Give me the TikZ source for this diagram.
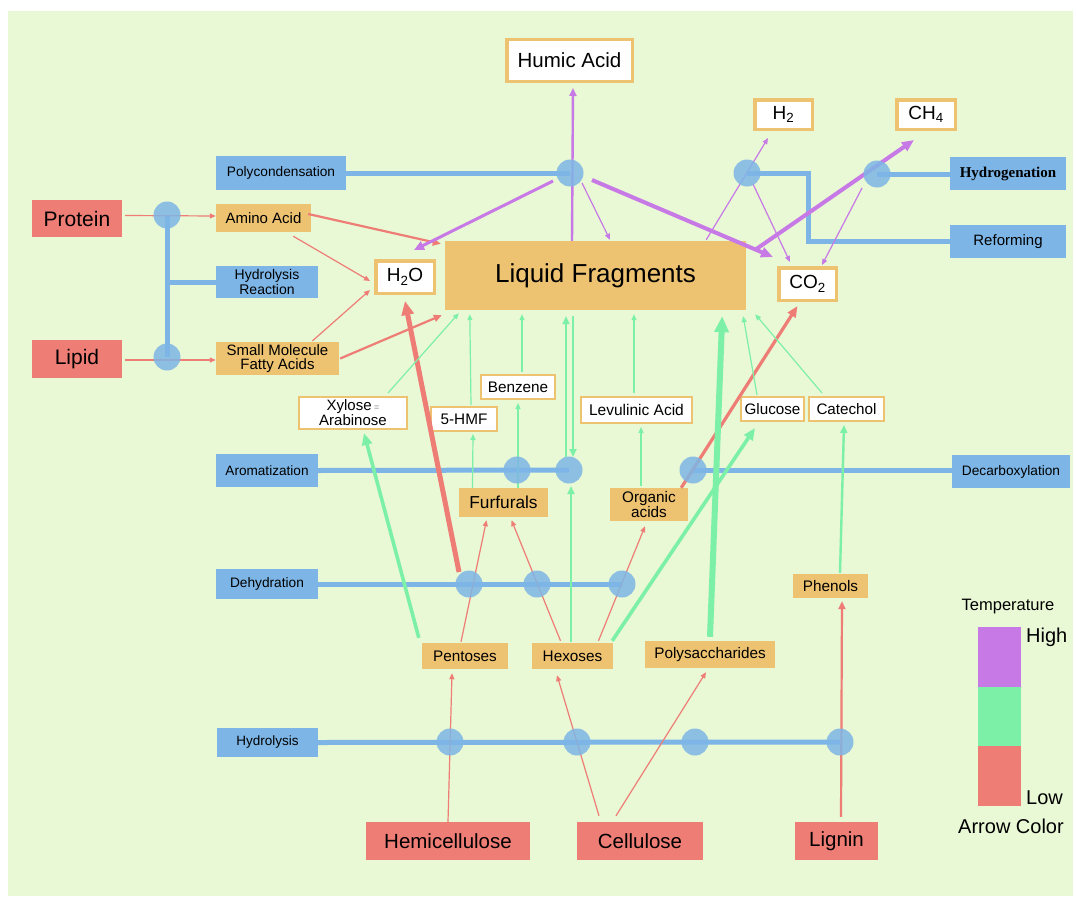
\documentclass[tikz,border=0pt]{standalone}
\usepackage{fontspec}
\setmainfont{Liberation Sans}
\newfontfamily\hydrofont{Liberation Serif}
\usetikzlibrary{arrows.meta,calc}
\definecolor{bg}{HTML}{E9F8D5}
\definecolor{cred}{HTML}{EE7D75}
\definecolor{corange}{HTML}{EDC372}
\definecolor{cblue}{HTML}{7DB6E6}
\definecolor{cpurple}{HTML}{C77AE6}
\definecolor{cgreen}{HTML}{7DF0A8}
\newcommand\fsz[2]{\fontsize{#1}{#2}\selectfont}
\begin{document}
\begin{tikzpicture}[x=1pt,y=-1pt,
 box/.style={inner sep=0pt, align=center, text=black},
 redbox/.style={box, fill=cred},
 orbox/.style={box, fill=corange},
 bluebox/.style={box, fill=cblue},
 outbox/.style={box, fill=white, draw=corange, line width=3.5pt},
 outboxs/.style={box, fill=white, draw=corange, line width=2pt},
 junc/.style={circle, fill=cblue, fill opacity=0.85, minimum size=27pt, inner sep=0pt},
 bline/.style={draw=cblue, line width=5pt},
 aR1/.style={draw=cred, line width=1.2pt, -{Triangle[length=6pt,width=5pt]}},
 aR2/.style={draw=cred, line width=2.2pt, -{Triangle[length=8pt,width=7pt]}},
 aR3/.style={draw=cred, line width=3.2pt, -{Triangle[length=11pt,width=9pt]}},
 aR5/.style={draw=cred, line width=5pt, -{Triangle[length=14pt,width=12pt]}},
 aG1/.style={draw=cgreen, line width=1.2pt, -{Triangle[length=6pt,width=5pt]}},
 aG2/.style={draw=cgreen, line width=2.4pt, -{Triangle[length=8pt,width=7pt]}},
 aG3/.style={draw=cgreen, line width=3.6pt, -{Triangle[length=12pt,width=10pt]}},
 aG5/.style={draw=cgreen, line width=6pt, -{Triangle[length=16pt,width=14pt]}},
 aP1/.style={draw=cpurple, line width=1.2pt, -{Triangle[length=6pt,width=5pt]}},
 aP2/.style={draw=cpurple, line width=2.4pt, -{Triangle[length=8pt,width=7pt]}},
 aP3/.style={draw=cpurple, line width=3pt, -{Triangle[length=10pt,width=9pt]}},
 aP4/.style={draw=cpurple, line width=4pt, -{Triangle[length=12pt,width=10pt]}},
]
\useasboundingbox (0,0) rectangle (1076,899);
\fill[white] (0,0) rectangle (1076,899);
\fill[bg] (8,11) rectangle (1073,896);

% ---------- nodes ----------
\node[outbox, minimum width=125.5pt, minimum height=41.5pt, font=\fsz{20.5}{22}] (humic) at (569.5,60.5) {Humic Acid};
\node[outbox, minimum width=57.5pt, minimum height=29.5pt, font=\fsz{19}{20}] (h2) at (783.5,114.5) {H\textsubscript{2}};
\node[outbox, minimum width=58.5pt, minimum height=29.5pt, font=\fsz{19}{20}] (ch4) at (926,114.5) {CH\textsubscript{4}};
\node[bluebox, minimum width=130pt, minimum height=34pt, font=\fsz{13.7}{14}] (poly) at (281,173) {Polycondensation};
\node[bluebox, minimum width=116pt, minimum height=33pt, font=\hydrofont\bfseries\fsz{15}{16}] (hydrog) at (1008,173.5) {Hydrogenation};
\node[bluebox, minimum width=116pt, minimum height=33pt, font=\fsz{15}{16}] (reform) at (1008,241.5) {Reforming};
\node[redbox, minimum width=90pt, minimum height=37pt, font=\fsz{21}{22}] (protein) at (77,218.5) {Protein};
\node[orbox, minimum width=95pt, minimum height=28pt, font=\fsz{15}{16}] (amino) at (263.5,218) {Amino Acid};
\node[bluebox, minimum width=102pt, minimum height=32pt, font=\fsz{14}{12}] (hydroR) at (267,282) {Hydrolysis\\Reaction};
\node[outbox, minimum width=58.5pt, minimum height=32.5pt, font=\fsz{19}{20}] (h2o) at (405,277) {H\textsubscript{2}O};
\node[orbox, minimum width=301pt, minimum height=69pt, font=\fsz{26}{28}] (lf) at (595.5,275.5) {Liquid Fragments};
\node[outbox, minimum width=57.5pt, minimum height=32.5pt, font=\fsz{19}{20}] (co2) at (807.5,284) {CO\textsubscript{2}};
\node[redbox, minimum width=90pt, minimum height=38pt, font=\fsz{21}{22}] (lipid) at (77,359) {Lipid};
\node[orbox, minimum width=123pt, minimum height=33pt, font=\fsz{15}{13.5}] (fatty) at (277.5,358.5) {Small Molecule\\Fatty Acids};
\node[outboxs, minimum width=74pt, minimum height=24pt, font=\fsz{15.3}{16}] (benzene) at (518,387) {Benzene};
\node[outboxs, minimum width=108pt, minimum height=32pt, font=\fsz{15}{12.5}] (xylose) at (353,413) {Xylose\,{\color{gray}\fsz{9}{9}=}\\Arabinose};
\node[outboxs, minimum width=66pt, minimum height=24pt, font=\fsz{15.3}{16}] (hmf) at (464,419) {5-HMF};
\node[outboxs, minimum width=111pt, minimum height=26pt, font=\fsz{15.5}{16}] (levul) at (636.5,410) {Levulinic Acid};
\node[outboxs, minimum width=63pt, minimum height=24pt, font=\fsz{15.2}{16}] (glucose) at (772.5,409) {Glucose};
\node[outboxs, minimum width=75pt, minimum height=24pt, font=\fsz{15.2}{16}] (catechol) at (846.5,409) {Catechol};
\node[bluebox, minimum width=102pt, minimum height=33pt, font=\fsz{13.6}{14}] (arom) at (267,470.5) {Aromatization};
\node[bluebox, minimum width=118pt, minimum height=33pt, font=\fsz{13.7}{14}] (decarb) at (1011,471.5) {Decarboxylation};
\node[orbox, minimum width=89pt, minimum height=29pt, font=\fsz{17.3}{18}] (furf) at (503.5,502.5) {Furfurals};
\node[orbox, minimum width=78pt, minimum height=33pt, font=\fsz{15.3}{13}] (orgacid) at (649,504.5) {Organic\\acids};
\node[bluebox, minimum width=102pt, minimum height=30pt, font=\fsz{13.7}{14}] (dehyd) at (267,584) {Dehydration};
\node[orbox, minimum width=75pt, minimum height=24pt, font=\fsz{15.3}{16}] (phenols) at (830.5,586) {Phenols};
\node[orbox, minimum width=86pt, minimum height=26pt, font=\fsz{15.3}{16}] (pent) at (465,656) {Pentoses};
\node[orbox, minimum width=81pt, minimum height=26pt, font=\fsz{15.3}{16}] (hex) at (572.5,656) {Hexoses};
\node[orbox, minimum width=130pt, minimum height=27pt, font=\fsz{15.3}{16}] (polys) at (710,654.5) {Polysaccharides};
\node[bluebox, minimum width=101pt, minimum height=29pt, font=\fsz{13.5}{14}] (hydrol) at (267.5,742.5) {Hydrolysis};
\node[redbox, minimum width=164pt, minimum height=38pt, font=\fsz{20.5}{22}] (hemi) at (448,841) {Hemicellulose};
\node[redbox, minimum width=126pt, minimum height=38pt, font=\fsz{20.5}{22}] (cell) at (640,841) {Cellulose};
\node[redbox, minimum width=83pt, minimum height=38pt, font=\fsz{20.5}{22}] (lignin) at (836.5,841) {Lignin};

% junction positions
\coordinate (pjpoly) at (570,173);
\coordinate (pjh2) at (747,173);
\coordinate (pjch4) at (877,174);
\coordinate (pjprot) at (167,215);
\coordinate (pjlip) at (167,357);
\coordinate (pja1) at (517,470);
\coordinate (pja2) at (569,470);
\coordinate (pjdc) at (693,470);
\coordinate (pjd1) at (469,584);
\coordinate (pjd2) at (537,584);
\coordinate (pjd3) at (622,584);
\coordinate (pjh1) at (450,742);
\coordinate (pjh2b) at (577,742);
\coordinate (pjh3) at (695,742);
\coordinate (pjh4) at (840,742);
\coordinate (bend) at (808,173);

% ---------- blue process lines ----------
\draw[bline] (poly.east) -- (pjpoly);
\draw[bline] (pjch4) -- (pjch4 -| hydrog.west);
\draw[bline] (pjh2) -- (bend) |- (reform.west);
\draw[bline] (pjprot) -- (pjlip);
\draw[bline] (pjprot |- hydroR.west) -- (hydroR.west);
\draw[bline] (arom.east) -- (pja2);
\draw[bline] (pjdc) -- (pjdc -| decarb.west);
\draw[bline] (dehyd.east) -- (pjd3);
\draw[bline] (hydrol.east) -- (pjh4);

% ---------- red arrows ----------
\draw[aR1] ($(protein.east)+(3,-3)$) -- ($(amino.west)+(0,-2)$);
\draw[aR1] ($(lipid.east)+(3,1)$) -- ($(fatty.west)+(0,1.5)$);
\draw[aR2] ($(amino.east)+(-3,-4)$) -- ($(lf.north west)+(-4,3)$);
\draw[aR1] ($(amino.south east)+(-18,4)$) -- ($(h2o.west)+(-4,4)$);
\draw[aR1] ($(fatty.north)+(35,-1)$) -- ($(h2o.south west)+(-4,-5)$);
\draw[aR2] ($(fatty.east)+(1,0)$) -- ($(lf.south west)+(-3,5)$);
\draw[aR5] ($(pjd1)+(-10,-12)$) -- ($(h2o.south)+(0,6)$);
\draw[aR1] ($(pent.north)+(-4,-1)$) -- ($(furf.south)+(-17,3)$);
\draw[aR1] ($(hex.north)+(-12,-2)$) -- ($(furf.south)+(8,3)$);
\draw[aR1] ($(hex.north)+(26,-2)$) -- ($(orgacid.south)+(-4,5)$);
\draw[aR3] ($(orgacid.north east)+(-7,0)$) -- ($(co2.south)+(-10,4)$);
\draw[aR1] (hemi.north) -- ($(pent.south)+(-13,4)$);
\draw[aR1] ($(cell.north)+(-41,-6)$) -- ($(hex.south)+(-15.5,6)$);
\draw[aR1] ($(cell.north)+(-24,-6)$) -- ($(polys.south)+(-4,4)$);
\draw[aR2] ($(lignin.north)+(4.5,-5)$) -- ($(phenols.south)+(11.5,3)$);

% ---------- green arrows ----------
\draw[aG3] ($(pent.north west)+(-3,-5)$) -- ($(xylose.south)+(11,3)$);
\draw[aG1] ($(xylose.north)+(35,-3)$) -- ($(lf.south west)+(14,3)$);
\draw[aG1] ($(furf.north)+(-31,0)$) -- ($(hmf.south)+(9,2)$);
\draw[aG1] ($(hmf.north)+(7,-1)$) -- ($(lf.south west)+(25,4)$);
\draw[aG1] ($(furf.north)+(14.5,0)$) -- ($(benzene.south)+(0,3)$);
\draw[aG1] ($(benzene.north)+(4,-2)$) -- ($(lf.south)+(-73.5,4)$);
\draw[aG2] ($(pja2)+(-3,-13)$) -- ($(lf.south)+(-29.5,6)$);
\draw[aG2] ($(lf.south)+(-22.5,6)$) -- ($(pja2)+(4,-13)$);
\draw[aG2] ($(hex.north)+(-1.5,-1)$) -- ($(pja2)+(2,16)$);
\draw[aG1] ($(orgacid.north)+(-8,-2)$) -- ($(levul.south)+(4.5,3)$);
\draw[aG1] ($(levul.north)+(-2.5,-3)$) -- ($(lf.south)+(38.5,4)$);
\draw[aG5] ($(polys.north)+(0,-4)$) -- ($(lf.south east)+(-24,6)$);
\draw[aG3] ($(hex.north east)+(-1,-2)$) -- ($(glucose.south)+(-17.5,6)$);
\draw[aG1] ($(glucose.north)+(-15.5,-1)$) -- ($(lf.south east)+(-3,6)$);
\draw[aG1] ($(catechol.north)+(-24.5,-3)$) -- ($(lf.south east)+(9,4)$);
\draw[aG2] ($(phenols.north)+(9.5,-1)$) -- ($(catechol.south)+(-2.5,3)$);

% ---------- purple arrows ----------
\draw[aP2] ($(lf.north)+(-23.5,0)$) -- ($(humic.south)+(3.5,5)$);
\draw[aP3] ($(pjpoly)+(-17,8)$) -- ($(h2o.north)+(9,-9)$);
\draw[aP4] ($(pjpoly)+(22,7)$) -- ($(co2.north west)+(-4,-9)$);
\draw[aP1] ($(pjpoly)+(12,10)$) -- ($(lf.north)+(14.5,-1)$);
\draw[aP1] ($(lf.north east)+(-40,-1)$) -- ($(h2.south)+(-15.5,7)$);
\draw[aP1] ($(pjh2)+(6,11)$) -- ($(co2.north)+(-17.5,-4)$);
\draw[aP1] ($(pjch4)+(-15,14)$) -- ($(co2.north east)+(-16,-1)$);
\draw[aP4] ($(lf.north east)+(9,9)$) -- ($(ch4.south)+(-12,9)$);

% ---------- junction dots ----------
\node[junc] (jpoly) at (pjpoly) {};
\node[junc] (jh2) at (pjh2) {};
\node[junc] (jch4) at (pjch4) {};
\node[junc] (jprot) at (pjprot) {};
\node[junc] (jlip) at (pjlip) {};
\node[junc] (ja1) at (pja1) {};
\node[junc] (ja2) at (pja2) {};
\node[junc] (jdc) at (pjdc) {};
\node[junc] (jd1) at (pjd1) {};
\node[junc] (jd2) at (pjd2) {};
\node[junc] (jd3) at (pjd3) {};
\node[junc] (jh1) at (pjh1) {};
\node[junc] (jh2b) at (pjh2b) {};
\node[junc] (jh3) at (pjh3) {};
\node[junc] (jh4) at (pjh4) {};

% ---------- legend ----------
\node[box, font=\fsz{16.5}{17}] (ltemp) at (1008,607) {Temperature};
\node[box, fill=cpurple, minimum width=43pt, minimum height=60pt] (lhigh) at (999.5,657) {};
\node[box, fill=cgreen, minimum width=43pt, minimum height=59pt] (lmid) at (999.5,716.5) {};
\node[box, fill=cred, minimum width=43pt, minimum height=60pt] (llow) at (999.5,776) {};
\node[box, font=\fsz{20}{21}, anchor=west] (lhtext) at (1026,637) {High};
\node[box, font=\fsz{20}{21}, anchor=west] (lltext) at (1026,798) {Low};
\node[box, font=\fsz{20}{21}] (lac) at (1011,826) {Arrow Color};
\end{tikzpicture}
\end{document}
